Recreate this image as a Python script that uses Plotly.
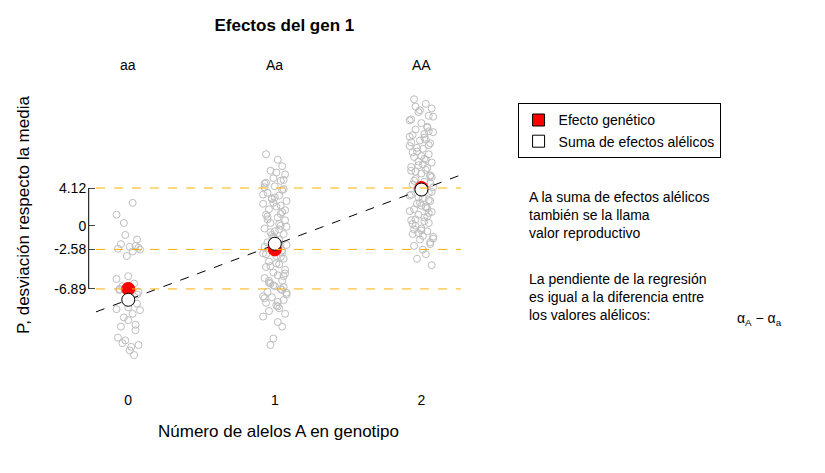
import plotly.graph_objects as go

# genotype effects (gene 1)
genotipos = ["aa", "Aa", "AA"]
efecto_genetico = [-6.89, -2.58, 4.12]
suma_alelicos = [-8.07, -1.96, 3.95]
ticks_y = [4.12, 0, -2.58, -6.89]
ticks_y_txt = ["4.12", "0", "-2.58", "-6.89"]
lineas_y = [4.12, -2.58, -6.89]
recta_x = [-0.22, 2.27]
recta_y = [-9.39, 5.55]

aa_dx = [-0.08, 0.03, 0.06, -0.05, 0.01, 0.08, -0.02, 0.05, -0.07, 0.0, 0.04, -0.04, 0.07, -0.06, 0.02,
         -0.01, 0.06, -0.08, 0.03, -0.03, 0.08, 0.0, -0.05, 0.05, -0.02, 0.07, -0.07, 0.01, 0.04, -0.04,
         0.02, -0.06, 0.06, -0.01, 0.03, -0.08, 0.05, 0.0, -0.03, 0.07]
aa_y = [1.2, 2.5, -1.5, -2.0, -2.3, -2.6, -1.0, -2.2, -2.5, -5.5, -6.3, -6.6, -7.2, -7.0, -6.8,
        -8.0, -8.5, -9.1, -9.6, -10.0, -9.2, -10.3, -11.0, -10.8, -12.5, -13.0, -12.2, -13.6, -14.1, -12.8,
        -13.2, -6.9, -7.5, -3.3, -2.8, -5.8, -11.4, -8.9, 0.3, -2.4]
Aa_dx = [-0.06, 0.02, 0.05, -0.03, 0.07, -0.01, 0.04, -0.07, 0.0, 0.06, -0.05, 0.03, -0.02, 0.08, -0.08,
         0.01, -0.04, 0.05, -0.06, 0.02, 0.07, -0.03, 0.04, -0.07, 0.0, 0.06, -0.01, 0.03, -0.05, 0.08,
         -0.02, 0.05, -0.08, 0.01, 0.06, -0.04, 0.03, -0.06, 0.07, -0.01, 0.02, -0.07, 0.05, -0.03, 0.0,
         0.04, -0.05, 0.08, -0.02, 0.06, -0.06, 0.01, 0.03, -0.04, 0.07, -0.08, 0.02, 0.05, -0.01, -0.03,
         0.06, -0.07, 0.0, 0.04, -0.05, 0.08, -0.02, 0.03, -0.06, 0.01, 0.07, -0.04, 0.05, -0.08, 0.02,
         -0.01, 0.06, -0.03, 0.04, -0.07, 0.0, 0.03, -0.05, 0.07, -0.02, 0.05, -0.06, 0.01, 0.08, -0.04,
         0.02, -0.07, 0.06, -0.01, 0.04, -0.03, 0.0, 0.05, -0.08, 0.03]
Aa_y = [7.8, 7.2, 6.5, 6.0, 5.6, 5.2, 4.9, 4.6, 4.3, 4.0, 3.6, 3.3, 3.0, 2.7, 2.4,
        2.1, 1.8, 1.5, 1.2, 0.9, 0.6, 0.3, 0.0, -0.3, -0.6, -0.9, -1.2, -1.5, -1.8, -2.1,
        -2.4, -2.7, -3.0, -3.3, -3.6, -3.9, -4.2, -4.5, -4.8, -5.1, -5.4, -5.7, -6.0, -6.3, -6.6,
        -6.9, -7.2, -7.5, -7.8, -8.1, -8.4, -8.7, -9.0, -9.3, -9.6, -9.9, -10.5, -11.0, -12.3, -13.0,
        5.0, 4.2, 3.1, 2.2, 1.0, -0.1, -1.0, -2.0, -3.1, -4.1, -5.2, -6.2, -7.0, -7.7, -8.3,
        -6.5, -5.5, -4.4, -3.4, -2.3, -1.4, -0.4, 0.7, 1.7, 2.9, 3.9, 4.7, 5.8, -7.3, -6.0,
        -8.8, -7.9, -6.7, 2.5, 1.3, -0.7, -1.7, -2.9, 3.4, 0.2]
AA_dx = [-0.05, 0.03, 0.07, -0.02, 0.05, -0.07, 0.0, 0.04, -0.04, 0.08, -0.06, 0.02, -0.01, 0.06, -0.08,
         0.01, -0.03, 0.05, -0.05, 0.03, 0.07, -0.02, 0.04, -0.07, 0.0, 0.06, -0.04, 0.02, -0.06, 0.08,
         -0.01, 0.05, -0.08, 0.01, 0.06, -0.03, 0.03, -0.05, 0.07, -0.02, 0.02, -0.07, 0.05, -0.04, 0.0,
         0.04, -0.06, 0.08, -0.01, 0.06, -0.05, 0.01, 0.03, -0.03, 0.07, -0.08, 0.02, 0.05, -0.02, -0.04,
         0.06, -0.07, 0.0, 0.04, -0.05, 0.08, -0.01, 0.03, -0.06, 0.01, 0.07, -0.03, 0.05, -0.08, 0.02,
         -0.02, 0.06, -0.04, 0.04, -0.07, 0.0, 0.03, -0.05, 0.07, -0.01, 0.05, -0.06, 0.01, 0.08, -0.03,
         0.02, -0.07, 0.06, -0.02, 0.04, -0.04, 0.0, 0.05, -0.08, 0.03]
AA_y = [13.8, 13.3, 12.8, 12.4, 12.0, 11.6, 11.2, 10.8, 10.5, 10.2, 9.9, 9.6, 9.3, 9.0, 8.7,
        8.4, 8.1, 7.8, 7.5, 7.2, 6.9, 6.6, 6.3, 6.0, 5.7, 5.4, 5.1, 4.8, 4.5, 4.2,
        3.9, 3.6, 3.3, 3.0, 2.7, 2.4, 2.1, 1.8, 1.5, 1.2, 0.9, 0.6, 0.3, 0.0, -0.3,
        -0.6, -0.9, -1.2, -1.5, -1.8, -2.2, -2.6, -3.1, -3.6, -4.3, 11.5, 10.0, 8.8, 7.0, 5.9,
        4.6, 3.4, 2.2, 1.0, -0.4, -1.4, 12.6, 9.4, 8.0, 6.7, 5.3, 4.0, 2.8, 1.6, 0.5,
        -0.8, -2.0, 13.0, 10.7, 9.1, 7.6, 6.1, 4.9, 3.7, 2.5, 1.4, 0.2, -1.1, 11.9, 8.5,
        7.3, 6.4, 5.5, 3.1, 1.9, 0.7, -0.5, 10.3, 9.7, 2.0]

fig = go.Figure()
for i, (dx, ys) in enumerate([(aa_dx, aa_y), (Aa_dx, Aa_y), (AA_dx, AA_y)]):
    fig.add_trace(go.Scatter(x=[i + d for d in dx], y=ys, mode="markers", showlegend=False,
                             marker=dict(symbol="circle-open", size=7, color="#bdbdbd", line=dict(width=1))))
for t in lineas_y:
    fig.add_hline(y=t, line=dict(color="#ffb000", width=1, dash="dash"))
fig.add_trace(go.Scatter(x=recta_x, y=recta_y, mode="lines", showlegend=False,
                         line=dict(color="black", width=1, dash="dash")))
fig.add_trace(go.Scatter(x=[0, 1, 2], y=efecto_genetico, mode="markers", showlegend=False,
                         marker=dict(size=13, color="red", line=dict(color="red", width=1))))
fig.add_trace(go.Scatter(x=[0, 1, 2], y=suma_alelicos, mode="markers", showlegend=False,
                         marker=dict(size=13, color="white", line=dict(color="black", width=1))))
# legend entries use squares, as in the original
fig.add_trace(go.Scatter(x=[None], y=[None], mode="markers", name="Efecto genético",
                         marker=dict(symbol="square", size=12, color="red", line=dict(color="black", width=1))))
fig.add_trace(go.Scatter(x=[None], y=[None], mode="markers", name="Suma de efectos alélicos",
                         marker=dict(symbol="square", size=12, color="white", line=dict(color="black", width=1))))

for i, g in enumerate(genotipos):
    fig.add_annotation(x=i, y=0.984, xref="x", yref="paper", yanchor="middle", showarrow=False,
                       text=g, font=dict(size=14))

notas = ["A la suma de efectos alélicos<br>también se la llama<br>valor reproductivo",
         "La pendiente de la regresión<br>es igual a la diferencia entre<br>los valores alélicos:"]
fig.add_annotation(x=1.18, y=1.2, xref="paper", yref="y", text=notas[0], showarrow=False,
                   xanchor="left", align="left", font=dict(size=14))
fig.add_annotation(x=1.18, y=-7.8, xref="paper", yref="y", text=notas[1], showarrow=False,
                   xanchor="left", align="left", font=dict(size=14))
fig.add_annotation(x=1.75, y=-10.2, xref="paper", yref="y", text="α<sub>A</sub> − α<sub>a</sub>",
                   showarrow=False, xanchor="left", font=dict(size=14))

fig.update_layout(
    width=825, height=473, plot_bgcolor="white", paper_bgcolor="white",
    margin=dict(l=88, r=372, t=52, b=111),
    font=dict(family="Liberation Sans, Arial", size=14, color="black"),
    title=dict(text="<b>Efectos del gen 1</b>", x=0.335, xanchor="center", y=0.965, yanchor="middle",
               font=dict(size=17)),
    legend=dict(x=1.155, y=0.86, xanchor="left", yanchor="top", bordercolor="black", borderwidth=1,
                font=dict(size=14), itemwidth=30, tracegroupgap=0),
    xaxis=dict(range=[-0.22, 2.27], tickvals=[0, 1, 2], showline=False, showgrid=False, zeroline=False,
               ticks="", ticklabelstandoff=20,
               title=dict(text="Número de alelos A en genotipo", standoff=18)),
    yaxis=dict(range=[-15.73, 18.08], tickvals=ticks_y, ticktext=ticks_y_txt, showgrid=False,
               zeroline=False, ticks="outside", ticklen=6, showline=False,
               title=dict(text="P, desviación respecto la media", standoff=20)),
)
fig.add_shape(type="line", xref="paper", yref="y", x0=-0.02, x1=-0.02, y0=-6.89, y1=4.12,
              line=dict(color="black", width=1))
fig.write_html("out.html")
